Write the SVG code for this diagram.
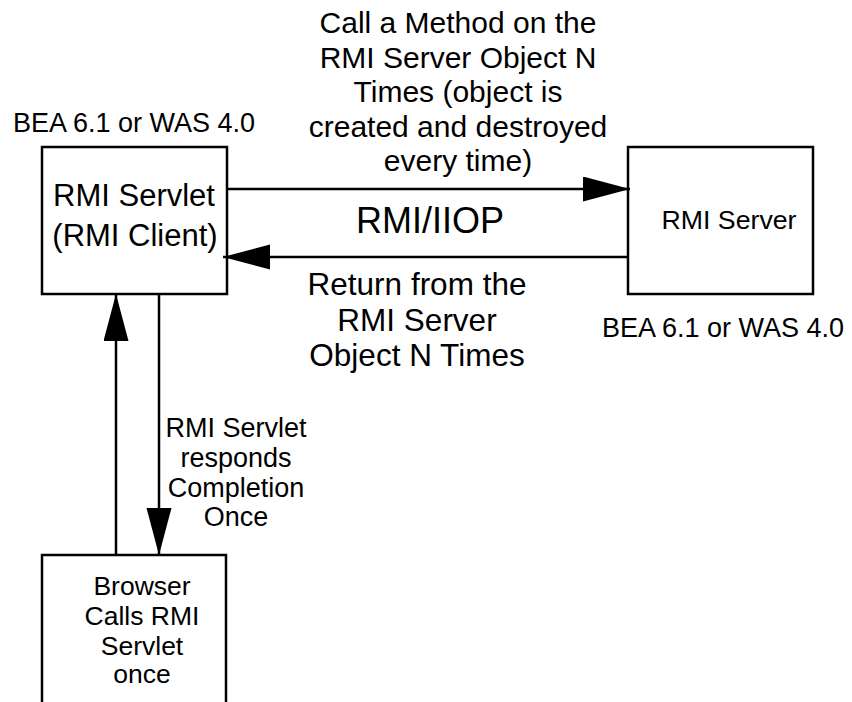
<svg xmlns="http://www.w3.org/2000/svg" width="852" height="702" viewBox="0 0 852 702">
<style>
.box{fill:#fff;stroke:#000;stroke-width:2.5}
.ln{stroke:#000;stroke-width:2.5;fill:none}
text{font-family:"Liberation Sans",Arial,sans-serif;fill:#000;text-anchor:middle}
</style>
<defs>
<marker id="ah" markerUnits="userSpaceOnUse" markerWidth="48" markerHeight="26" refX="47" refY="12.5" orient="auto">
<path d="M0,0 L47,12.5 L0,25 z" fill="#000"/>
</marker>
</defs>
<rect width="852" height="702" fill="#fff"/>
<g id="client">
<rect class="box" x="42" y="147" width="185" height="147"/>
<text x="134" y="206" font-size="31">RMI Servlet</text>
<text x="135" y="246" font-size="31">(RMI Client)</text>
<text x="134" y="132" font-size="27">BEA 6.1 or WAS 4.0</text>
</g>
<g id="server">
<rect class="box" x="628" y="147" width="185" height="147"/>
<text x="729" y="229" font-size="26.7">RMI Server</text>
<text x="723" y="337" font-size="27">BEA 6.1 or WAS 4.0</text>
</g>
<g id="browser">
<rect class="box" x="42" y="555" width="184" height="170"/>
<text x="142" y="595" font-size="26.5">Browser</text>
<text x="142" y="625" font-size="26.5">Calls RMI</text>
<text x="142" y="655" font-size="26.5">Servlet</text>
<text x="142" y="683" font-size="26.5">once</text>
</g>
<g id="connectors">
<line class="ln" x1="227" y1="189" x2="630" y2="189" marker-end="url(#ah)"/>
<line class="ln" x1="628" y1="257" x2="223" y2="257" marker-end="url(#ah)"/>
<line class="ln" x1="116" y1="555" x2="116" y2="294" marker-end="url(#ah)"/>
<line class="ln" x1="159" y1="294" x2="159" y2="555" marker-end="url(#ah)"/>
<text x="458" y="33" font-size="30">Call a Method on the</text>
<text x="458" y="68" font-size="30">RMI Server Object N</text>
<text x="458" y="102" font-size="30">Times (object is</text>
<text x="458" y="137" font-size="30">created and destroyed</text>
<text x="458" y="171" font-size="30">every time)</text>
<text x="430" y="233" font-size="36">RMI/IIOP</text>
<text x="417" y="295" font-size="31.5">Return from the</text>
<text x="417" y="331" font-size="31.5">RMI Server</text>
<text x="417" y="366" font-size="31.5">Object N Times</text>
<text x="236" y="437" font-size="27">RMI Servlet</text>
<text x="236" y="467" font-size="27">responds</text>
<text x="236" y="497" font-size="27">Completion</text>
<text x="236" y="526" font-size="27">Once</text>
</g>
</svg>
